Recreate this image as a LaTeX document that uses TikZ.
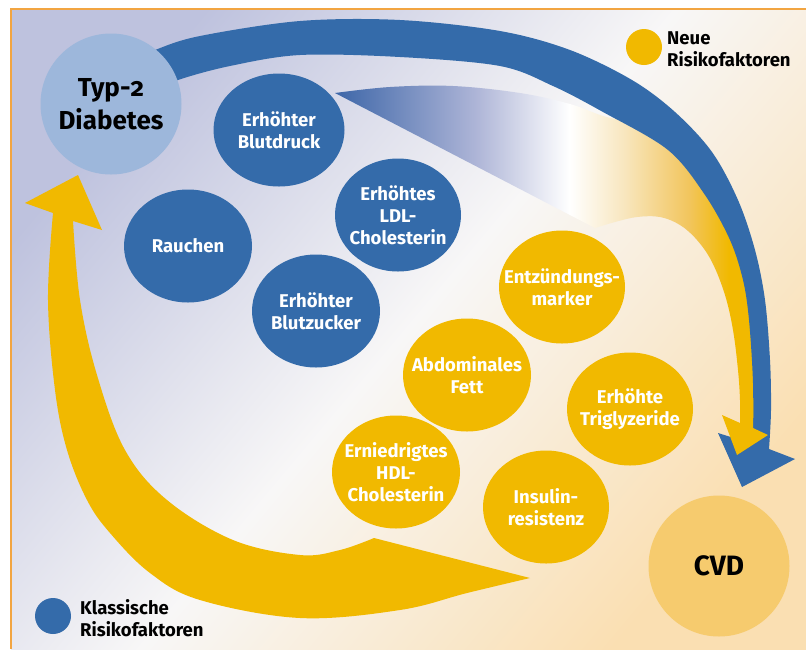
\documentclass[tikz,border=0pt]{standalone}
\usepackage{fontspec}
\setmainfont{Fira Sans}
\usetikzlibrary{shapes.geometric}

\definecolor{riskblue}{HTML}{346BAA}
\definecolor{diabblue}{HTML}{9DB7DB}
\definecolor{riskyellow}{HTML}{F1B900}
\definecolor{cvdgold}{HTML}{F6CB6E}
\definecolor{frameorange}{HTML}{F2A541}
\definecolor{bglav}{HTML}{BEC2DE}
\definecolor{bgwhite}{HTML}{F8F7F7}
\definecolor{bgpeach}{HTML}{FADFB2}
\definecolor{rbblue}{HTML}{3D66A8}
\definecolor{rblav}{HTML}{AEB5D7}
\definecolor{rbcream}{HTML}{F8E6BE}
\definecolor{rbgold}{HTML}{F2C55C}

% soft diagonal backdrop: lavender -> white -> peach
\pgfdeclarehorizontalshading{backdrop}{100bp}{color(0bp)=(bglav); color(25bp)=(bglav); color(50bp)=(bgwhite); color(75bp)=(bgpeach); color(100bp)=(bgpeach)}
% ribbon that turns from blue into the yellow arrow
\pgfdeclarehorizontalshading{ribbon}{100bp}{color(0bp)=(rbblue); color(25bp)=(rbblue); color(41.5bp)=(rblav); color(52.4bp)=(white); color(58.8bp)=(rbcream); color(66.4bp)=(rbgold); color(71bp)=(riskyellow); color(100bp)=(riskyellow)}

\tikzset{
  caption/.style={align=center, inner sep=0pt, text=white,
    font=\bfseries\fontsize{18.5}{22}\selectfont},
  classic/.style={ellipse, fill=riskblue, minimum width=128pt,
    minimum height=113pt, inner sep=0pt},
  novel/.style={classic, fill=riskyellow},
  bigdisc/.style={circle, minimum size=141pt, inner sep=0pt, align=center, text=black},
  legenddot/.style={circle, minimum size=36pt, inner sep=0pt},
  legendtext/.style={anchor=west, align=left, inner sep=0pt, text=black,
    font=\bfseries\fontsize{18.5}{21.5}\selectfont},
}

\begin{document}
\begin{tikzpicture}[x=1pt,y=-1pt]
\useasboundingbox (0,0) rectangle (806,649);
\fill[white] (0,0) rectangle (806,649);
\shade[shading=backdrop, shading angle=-40] (11,9) rectangle (806,649);
\draw[frameorange, line width=1.5pt] (11,649) -- (11,9) -- (806,9);

% ribbon (drawn first, its outer edge hides under the blue arrow)
\shade[shading=ribbon] (335,93)
  -- plot[smooth, tension=0.6] coordinates {(335,93) (390,87) (453,86) (520,93) (570,104) (603,116) (640,126) (685,156) (720,205) (745,255) (757,300) (762,360) (763,410) (762,432)}
  -- (740,423)
  -- plot[smooth, tension=0.6] coordinates {(740,423) (740,400) (738,370) (733,330) (725,295) (712,262) (697,240) (680,225) (660,217) (637,217) (615,222) (595,228)}
  -- cycle;

% blue arrow: classic risk factors -> CVD
\fill[riskblue]
  plot[smooth, tension=0.55] coordinates {(120,66) (155,50) (200,36) (300,21) (400,20) (500,31) (570,50) (632,80) (675,112) (712,152) (738,200) (755,250) (765,300) (770,360) (771,410) (769,449)}
  -- (795,459) -- (742,487) -- (718,433) -- (753,444)
  -- plot[smooth, tension=0.55] coordinates {(753,444) (753,383) (749,320) (743,280) (730,240) (705,195) (668,150) (603,112) (553,86) (500,66) (400,57) (300,55) (230,66) (178,80) (140,96)}
  -- cycle;

% head of the yellow arrow, lying over the blue head
\fill[riskyellow] (740,400) -- (740,423) -- (722,415) -- (737,455) -- (768,435) -- (753,428) -- (753,400) -- cycle;

% yellow arrow back to type 2 diabetes
\fill[riskyellow] (530,578) -- (374,538)
  -- plot[smooth, tension=0.6] coordinates {(374,538) (340,550) (300,555) (233,540) (167,500) (125,450) (97,375) (80,300) (73,221)}
  -- (102,230) -- (78,175) -- (25,203) -- (53,213)
  -- plot[smooth, tension=0.6] coordinates {(53,213) (48,300) (55,390) (67,450) (87,500) (110,533) (150,573) (200,600) (300,618) (400,610) (467,593) (530,578)}
  -- cycle;

% main discs
\node[bigdisc, fill=diabblue, font=\bfseries\fontsize{26}{33}\selectfont] (t2d) at (111,104)
  {Typ-{\addfontfeatures{Numbers=OldStyle}2}\\Diabetes};
\node[bigdisc, fill=cvdgold, font=\bfseries\fontsize{28}{32}\selectfont] (cvd) at (719,566) {CVD};

% classic risk factors
\node[classic, minimum width=131pt, label={[caption]center:Erhöhter\\Blutdruck}] (bp) at (279,130) {};
\node[classic, label={[caption]center:Rauchen}] (smoke) at (188,246) {};
\node[classic, minimum width=126pt, label={[caption]center:Erhöhtes\\LDL-\\Cholesterin}] (ldl) at (398,215) {};
\node[classic, label={[caption]center:Erhöhter\\Blutzucker}] (sugar) at (316,311) {};

% new risk factors
\node[novel, minimum width=126pt, label={[caption]center:Entzündungs-\\marker}] (infl) at (562,287) {};
\node[novel, label={[caption]center:Abdominales\\Fett}] (fat) at (467,375) {};
\node[novel, minimum width=126pt, label={[caption]center:Erhöhte\\Triglyzeride}] (trig) at (630,409) {};
\node[novel, label={[caption]center:Erniedrigtes\\HDL-\\Cholesterin}] (hdl) at (396,472) {};
\node[novel, minimum width=126pt, label={[caption]center:Insulin-\\resistenz}] (ins) at (546,507) {};

% legend
\node[legenddot, fill=riskyellow] (newdot) at (644,47) {};
\node[legendtext] (newtext) at (667,49) {Neue\\Risikofaktoren};
\node[legenddot, fill=riskblue] (classicdot) at (53,616) {};
\node[legendtext] (classictext) at (80,618) {Klassische\\Risikofaktoren};
\end{tikzpicture}
\end{document}
